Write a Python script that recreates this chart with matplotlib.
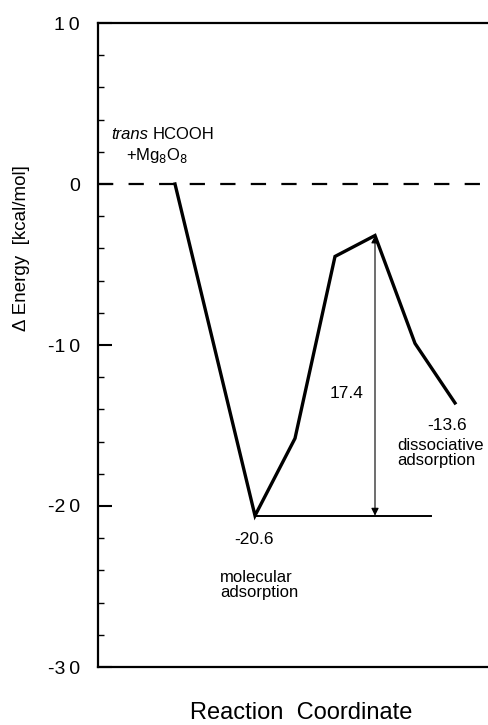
import numpy as np
import matplotlib.pyplot as plt
from matplotlib.ticker import MultipleLocator

plt.rcParams['font.family'] = ['Liberation Sans', 'DejaVu Sans']
plt.rcParams['lines.scale_dashes'] = False

# reaction path (arbitrary reaction coordinate steps) and energies in kcal/mol
reaction_x = [0, 2, 3, 4, 5, 6, 7]
energy = [0.0, -20.6, -15.8, -4.5, -3.2, -9.9, -13.6]

y_ticks = [10, 0, -10, -20, -30]
y_ticklabels = ['1 0', '0', '-1 0', '-2 0', '-3 0']

barrier = 17.4
e_molecular = -20.6
e_dissoc = -13.6

TS = '\u2009'  # thin space for the wide letter spacing of the tick labels

fig = plt.figure(figsize=(4.88, 7.25), dpi=100)
ax = fig.add_axes([98 / 488, 58 / 725, 390 / 488, 644 / 725])

ax.set_xlim(-1.925, 7.825)
ax.set_ylim(-30, 10)

# zero reference
ax.axhline(0, color='black', lw=1.6, dashes=(11, 11))

# path
ax.plot(reaction_x, energy, color='black', lw=2.4, solid_joinstyle='miter')

# baseline from molecular adsorption minimum
ax.plot([2, 6.4], [e_molecular, e_molecular], color='black', lw=1.4)

# barrier arrow
ax.annotate('', xy=(5, e_molecular + barrier), xytext=(5, e_molecular),
            arrowprops=dict(arrowstyle='<|-|>', color='black', lw=0.8,
                            mutation_scale=11, shrinkA=0, shrinkB=0))

fs = 12
# labels
ax.text(-1.6, 3.1, 'trans', style='italic', fontsize=fs, ha='left', va='center')
ax.text(-0.55, 3.1, 'HCOOH', fontsize=fs, ha='left', va='center')
ax.text(-1.22, 1.75, r'+Mg$_8$O$_8$', fontsize=fs, ha='left', va='center')

ax.text(4.3, -13.0, f'{barrier:.1f}', fontsize=12.5, ha='center', va='center')
ax.text(6.8, -15.0, f'{e_dissoc:.1f}', fontsize=12.5, ha='center', va='center')
ax.text(5.55, -16.7, 'dissociative\nadsorption', fontsize=fs, ha='left', va='center',
        linespacing=1.05)
ax.text(1.97, -22.1, f'{e_molecular:.1f}', fontsize=12.5, ha='center', va='center')
ax.text(1.12, -24.9, 'molecular\nadsorption', fontsize=fs, ha='left', va='center',
        linespacing=1.05)

# axes styling
ax.set_yticks(y_ticks)
ax.set_yticklabels([t.replace(' ', TS) for t in y_ticklabels], fontsize=14)
ax.yaxis.set_minor_locator(MultipleLocator(2))
ax.tick_params(axis='y', which='major', direction='in', length=10, width=1.5, pad=13)
ax.tick_params(axis='y', which='minor', direction='in', length=4, width=1.0)
ax.set_xticks([])
ax.spines['right'].set_visible(False)
for s in ['left', 'top', 'bottom']:
    ax.spines[s].set_linewidth(1.6)

fig.text(22 / 488, 1 - 248 / 725, 'Δ Energy  [kcal/mol]', rotation=90,
         fontsize=13.5, ha='center', va='center')
fig.text(301 / 488, 1 - 713 / 725, 'Reaction  Coordinate', fontsize=17,
         ha='center', va='center')

fig.savefig('out.png', dpi=100)
